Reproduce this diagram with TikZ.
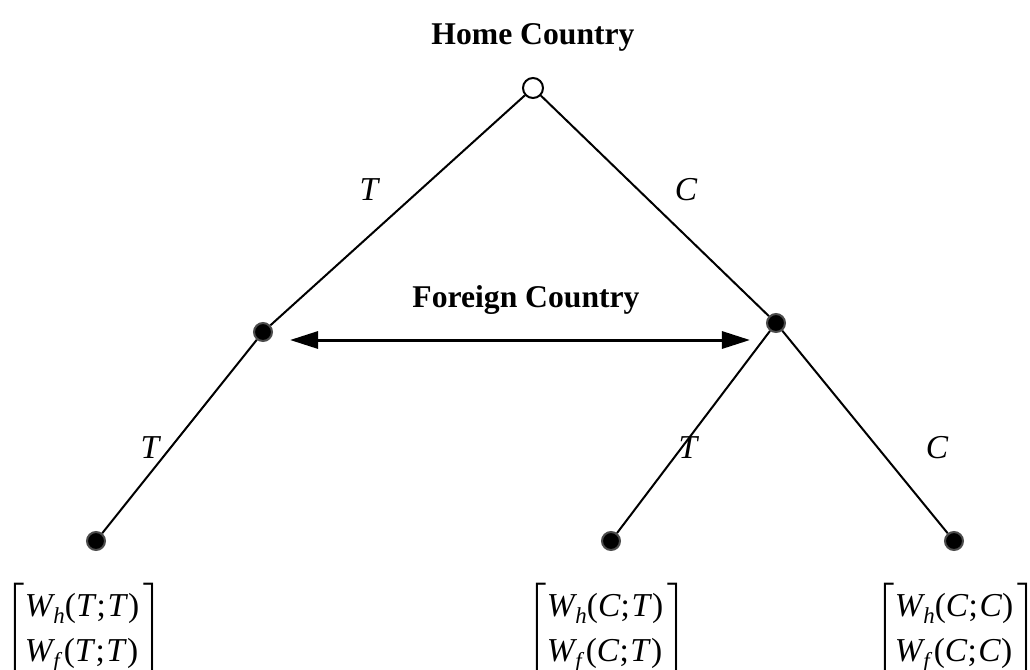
\documentclass[tikz,border=0pt]{standalone}
\usepackage{amsmath}
\usepackage{fontspec}
\setmainfont{Liberation Serif}
\usetikzlibrary{arrows.meta}

% payoff vector under a leaf
\newcommand{\wsub}[1]{\raisebox{-0.45ex}{\fontsize{6.5}{7}\selectfont\itshape #1}}
\newcommand{\payoff}[2]{\fontsize{9.5}{12.8}\selectfont$\left[\begin{array}{@{}l@{\kern0.12em}}
  \mbox{\textit{W}\kern-0.05em\wsub{h}(\textit{#1};\kern0.05em\textit{#2})}\\
  \mbox{\textit{W}\kern-0.05em\wsub{f}\kern0.12em(\textit{#1};\kern0.05em\textit{#2})}
  \end{array}\right]$}

\begin{document}
\begin{tikzpicture}[x=0.01cm,y=-0.01cm,line width=0.02cm]
        \tikzstyle{root}=[circle,draw=black,fill=white,inner sep=0pt,minimum size=0.2cm]
        \tikzstyle{dec}=[circle,draw=black!70,fill=black,inner sep=0pt,minimum size=0.18cm]
        \tikzstyle{move}=[font=\fontsize{9.5}{11}\selectfont\itshape]
        \tikzstyle{player}=[font=\fontsize{9}{11}\selectfont\bfseries]
        \tikzstyle{vec}=[anchor=north,inner sep=0pt]

        \clip (0,0) rectangle (1030,669);
        \useasboundingbox (0,0) rectangle (1030,669);

        \node[player] (HC) at (533,37)  {Home Country};
        \node[player] (FC) at (526,300) {Foreign Country};

        \node[root] (H)  at (533,88)  {};
        \node[dec]  (F1) at (263,332) {};
        \node[dec]  (F2) at (776,323) {};
        \node[dec]  (L1) at (96,541)  {};
        \node[dec]  (L2) at (611,541) {};
        \node[dec]  (L3) at (954,541) {};

        \draw (H) -- (F1);
        \draw (H) -- (F2);
        \draw (F1) -- (L1);
        \draw (F2) -- (L2);
        \draw (F2) -- (L3);

        \node[move] (m1) at (369,190) {T};
        \node[move] (m2) at (686,190) {C};
        \node[move] (m3) at (150,448) {T};
        \node[move] (m4) at (688,448) {T};
        \node[move] (m5) at (937,448) {C};

        % information set of the foreign country
        \coordinate (A1) at (290,340);
        \coordinate (A2) at (750,340);
        \draw[line width=0.03cm,{Triangle[length=0.28cm,width=0.17cm]}-{Triangle[length=0.28cm,width=0.17cm]}] (A1) -- (A2);

        \node[vec] (P1) at (84,582)  {\payoff{T}{T}};
        \node[vec] (P2) at (607,582) {\payoff{C}{T}};
        \node[vec] (P3) at (956,582) {\payoff{C}{C}};
\end{tikzpicture}
\end{document}
